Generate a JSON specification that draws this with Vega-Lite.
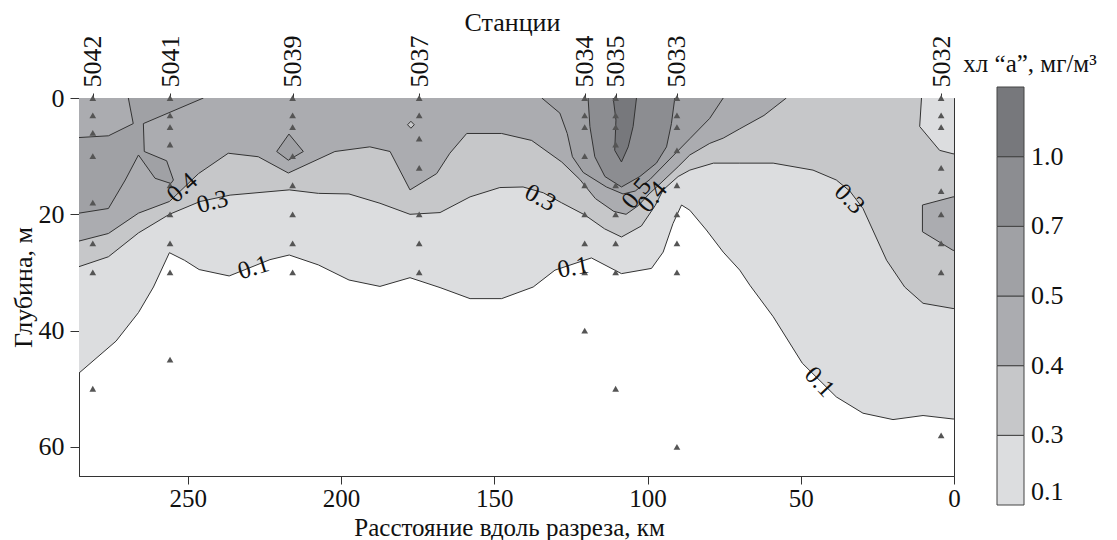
{
"$schema":"https://vega.github.io/schema/vega-lite/v6.json",
"width":875,"height":378,
"autosize":{"type":"none"},
"padding":{"left":79,"top":98,"right":163,"bottom":64},
"background":"white",
"config":{
"view":{"stroke":"#333","strokeWidth":1},
"font":"Liberation Serif, Times New Roman, DejaVu Serif, serif",
"axis":{"domainColor":"#333","tickColor":"#333","labelColor":"#111","titleColor":"#111","labelFont":"Liberation Serif, Times New Roman, DejaVu Serif, serif","titleFont":"Liberation Serif, Times New Roman, DejaVu Serif, serif","labelFontSize":26,"titleFontSize":26,"titleFontWeight":"normal","grid":false,"labelFlush":false,"labelOverlap":false},
"legend":{"labelFont":"Liberation Serif, Times New Roman, DejaVu Serif, serif","titleFont":"Liberation Serif, Times New Roman, DejaVu Serif, serif"},
"text":{"font":"Liberation Serif, Times New Roman, DejaVu Serif, serif"}
},
"datasets":{
"poly":[
{"p":"a1","z":1,"c":0,"i":0,"km":292,"d":-3},{"p":"a1","z":1,"c":0,"i":1,"km":292,"d":47.3},{"p":"a1","z":1,"c":0,"i":2,"km":285.5,"d":47.3},{"p":"a1","z":1,"c":0,"i":3,"km":273.4,"d":41.8},{"p":"a1","z":1,"c":0,"i":4,"km":266.1,"d":36.9},{"p":"a1","z":1,"c":0,"i":5,"km":261.2,"d":32.5},{"p":"a1","z":1,"c":0,"i":6,"km":256.0,"d":26.6},{"p":"a1","z":1,"c":0,"i":7,"km":251.1,"d":27.9},{"p":"a1","z":1,"c":0,"i":8,"km":246.3,"d":29.5},{"p":"a1","z":1,"c":0,"i":9,"km":236.5,"d":30.6},{"p":"a1","z":1,"c":0,"i":10,"km":223.2,"d":27.8},{"p":"a1","z":1,"c":0,"i":11,"km":216.9,"d":27.0},{"p":"a1","z":1,"c":0,"i":12,"km":207.4,"d":28.7},{"p":"a1","z":1,"c":0,"i":13,"km":197.4,"d":31.3},{"p":"a1","z":1,"c":0,"i":14,"km":187.3,"d":32.4},{"p":"a1","z":1,"c":0,"i":15,"km":177.5,"d":30.9},{"p":"a1","z":1,"c":0,"i":16,"km":167.7,"d":32.6},{"p":"a1","z":1,"c":0,"i":17,"km":157.9,"d":34.5},{"p":"a1","z":1,"c":0,"i":18,"km":147.6,"d":34.5},{"p":"a1","z":1,"c":0,"i":19,"km":137.3,"d":32.5},{"p":"a1","z":1,"c":0,"i":20,"km":130.2,"d":29.6},{"p":"a1","z":1,"c":0,"i":21,"km":118.3,"d":27.5},{"p":"a1","z":1,"c":0,"i":22,"km":108.5,"d":30.2},{"p":"a1","z":1,"c":0,"i":23,"km":98.7,"d":29.3},{"p":"a1","z":1,"c":0,"i":24,"km":94.9,"d":26.5},{"p":"a1","z":1,"c":0,"i":25,"km":91.7,"d":21.6},{"p":"a1","z":1,"c":0,"i":26,"km":88.9,"d":18.4},{"p":"a1","z":1,"c":0,"i":27,"km":86.2,"d":19.3},{"p":"a1","z":1,"c":0,"i":28,"km":80.8,"d":22.7},{"p":"a1","z":1,"c":0,"i":29,"km":75.3,"d":26.5},{"p":"a1","z":1,"c":0,"i":30,"km":69.9,"d":29.6},{"p":"a1","z":1,"c":0,"i":31,"km":66.6,"d":32.2},{"p":"a1","z":1,"c":0,"i":32,"km":59.0,"d":37.6},{"p":"a1","z":1,"c":0,"i":33,"km":49.5,"d":45.6},{"p":"a1","z":1,"c":0,"i":34,"km":38.4,"d":51.4},{"p":"a1","z":1,"c":0,"i":35,"km":29.7,"d":54.2},{"p":"a1","z":1,"c":0,"i":36,"km":19.9,"d":55.3},{"p":"a1","z":1,"c":0,"i":37,"km":10.1,"d":54.6},{"p":"a1","z":1,"c":0,"i":38,"km":0.3,"d":55.2},{"p":"a1","z":1,"c":0,"i":39,"km":-3,"d":55.2},{"p":"a1","z":1,"c":0,"i":40,"km":-3,"d":-3},
{"p":"a2","z":2,"c":1,"i":0,"km":292,"d":-3},{"p":"a2","z":2,"c":1,"i":1,"km":292,"d":29.0},{"p":"a2","z":2,"c":1,"i":2,"km":285.5,"d":29.0},{"p":"a2","z":2,"c":1,"i":3,"km":275.9,"d":27.3},{"p":"a2","z":2,"c":1,"i":4,"km":266.1,"d":23.2},{"p":"a2","z":2,"c":1,"i":5,"km":256.0,"d":20.0},{"p":"a2","z":2,"c":1,"i":6,"km":246.0,"d":17.8},{"p":"a2","z":2,"c":1,"i":7,"km":236.2,"d":16.7},{"p":"a2","z":2,"c":1,"i":8,"km":216.9,"d":15.8},{"p":"a2","z":2,"c":1,"i":9,"km":207.4,"d":16.4},{"p":"a2","z":2,"c":1,"i":10,"km":197.4,"d":16.5},{"p":"a2","z":2,"c":1,"i":11,"km":187.3,"d":18.1},{"p":"a2","z":2,"c":1,"i":12,"km":177.5,"d":20.0},{"p":"a2","z":2,"c":1,"i":13,"km":167.7,"d":19.7},{"p":"a2","z":2,"c":1,"i":14,"km":157.9,"d":17.0},{"p":"a2","z":2,"c":1,"i":15,"km":148.2,"d":15.4},{"p":"a2","z":2,"c":1,"i":16,"km":140.6,"d":15.3},{"p":"a2","z":2,"c":1,"i":17,"km":134,"d":16.3},{"p":"a2","z":2,"c":1,"i":18,"km":128.1,"d":18.0},{"p":"a2","z":2,"c":1,"i":19,"km":120.5,"d":20.1},{"p":"a2","z":2,"c":1,"i":20,"km":114,"d":22.5},{"p":"a2","z":2,"c":1,"i":21,"km":108.5,"d":23.9},{"p":"a2","z":2,"c":1,"i":22,"km":102,"d":22.0},{"p":"a2","z":2,"c":1,"i":23,"km":97.5,"d":18.5},{"p":"a2","z":2,"c":1,"i":24,"km":94.9,"d":15.8},{"p":"a2","z":2,"c":1,"i":25,"km":90,"d":13.5},{"p":"a2","z":2,"c":1,"i":26,"km":86.2,"d":12.4},{"p":"a2","z":2,"c":1,"i":27,"km":78.5,"d":11.2},{"p":"a2","z":2,"c":1,"i":28,"km":69.9,"d":11.2},{"p":"a2","z":2,"c":1,"i":29,"km":59.0,"d":11.2},{"p":"a2","z":2,"c":1,"i":30,"km":46.0,"d":12.4},{"p":"a2","z":2,"c":1,"i":31,"km":38.4,"d":14.1},{"p":"a2","z":2,"c":1,"i":32,"km":34,"d":16.0},{"p":"a2","z":2,"c":1,"i":33,"km":29.7,"d":19.0},{"p":"a2","z":2,"c":1,"i":34,"km":22.0,"d":27.9},{"p":"a2","z":2,"c":1,"i":35,"km":16.1,"d":32.5},{"p":"a2","z":2,"c":1,"i":36,"km":10.1,"d":35.3},{"p":"a2","z":2,"c":1,"i":37,"km":0.3,"d":36.2},{"p":"a2","z":2,"c":1,"i":38,"km":-3,"d":36.2},{"p":"a2","z":2,"c":1,"i":39,"km":-3,"d":-3},
{"p":"a3","z":3,"c":0,"i":0,"km":10.6,"d":-3},{"p":"a3","z":3,"c":0,"i":1,"km":10.6,"d":0},{"p":"a3","z":3,"c":0,"i":2,"km":11.2,"d":4.9},{"p":"a3","z":3,"c":0,"i":3,"km":4.7,"d":9.0},{"p":"a3","z":3,"c":0,"i":4,"km":0.3,"d":9.6},{"p":"a3","z":3,"c":0,"i":5,"km":-3,"d":9.6},{"p":"a3","z":3,"c":0,"i":6,"km":-3,"d":-3},
{"p":"a4","z":4,"c":2,"i":0,"km":292,"d":-3},{"p":"a4","z":4,"c":2,"i":1,"km":292,"d":24.6},{"p":"a4","z":4,"c":2,"i":2,"km":285.5,"d":24.6},{"p":"a4","z":4,"c":2,"i":3,"km":275.9,"d":23.3},{"p":"a4","z":4,"c":2,"i":4,"km":266.1,"d":19.8},{"p":"a4","z":4,"c":2,"i":5,"km":256.0,"d":17.8},{"p":"a4","z":4,"c":2,"i":6,"km":246.5,"d":13.0},{"p":"a4","z":4,"c":2,"i":7,"km":236.8,"d":9.5},{"p":"a4","z":4,"c":2,"i":8,"km":227.0,"d":10.1},{"p":"a4","z":4,"c":2,"i":9,"km":217.2,"d":12.9},{"p":"a4","z":4,"c":2,"i":10,"km":202.0,"d":9.2},{"p":"a4","z":4,"c":2,"i":11,"km":190.6,"d":8.4},{"p":"a4","z":4,"c":2,"i":12,"km":184.0,"d":9.2},{"p":"a4","z":4,"c":2,"i":13,"km":177.5,"d":15.8},{"p":"a4","z":4,"c":2,"i":14,"km":168.8,"d":13.0},{"p":"a4","z":4,"c":2,"i":15,"km":164.5,"d":9.5},{"p":"a4","z":4,"c":2,"i":16,"km":159.0,"d":6.1},{"p":"a4","z":4,"c":2,"i":17,"km":147.6,"d":6.1},{"p":"a4","z":4,"c":2,"i":18,"km":137.8,"d":7.3},{"p":"a4","z":4,"c":2,"i":19,"km":128.0,"d":11.0},{"p":"a4","z":4,"c":2,"i":20,"km":122.1,"d":14.0},{"p":"a4","z":4,"c":2,"i":21,"km":117,"d":17.3},{"p":"a4","z":4,"c":2,"i":22,"km":111,"d":19.5},{"p":"a4","z":4,"c":2,"i":23,"km":107,"d":20.0},{"p":"a4","z":4,"c":2,"i":24,"km":103,"d":18.5},{"p":"a4","z":4,"c":2,"i":25,"km":99.5,"d":16.5},{"p":"a4","z":4,"c":2,"i":26,"km":96,"d":14.8},{"p":"a4","z":4,"c":2,"i":27,"km":90,"d":11.8},{"p":"a4","z":4,"c":2,"i":28,"km":86.2,"d":9.8},{"p":"a4","z":4,"c":2,"i":29,"km":79.7,"d":7.8},{"p":"a4","z":4,"c":2,"i":30,"km":75.3,"d":6.9},{"p":"a4","z":4,"c":2,"i":31,"km":69.9,"d":5.3},{"p":"a4","z":4,"c":2,"i":32,"km":62,"d":3.0},{"p":"a4","z":4,"c":2,"i":33,"km":54.7,"d":0},{"p":"a4","z":4,"c":2,"i":34,"km":53.5,"d":-3},
{"p":"a5","z":5,"c":2,"i":0,"km":-3,"d":17.0},{"p":"a5","z":5,"c":2,"i":1,"km":0.3,"d":17.0},{"p":"a5","z":5,"c":2,"i":2,"km":10.3,"d":18.4},{"p":"a5","z":5,"c":2,"i":3,"km":10.3,"d":23.0},{"p":"a5","z":5,"c":2,"i":4,"km":0.3,"d":26.2},{"p":"a5","z":5,"c":2,"i":5,"km":-3,"d":26.2},
{"p":"a6","z":5,"c":3,"i":0,"km":292,"d":-3},{"p":"a6","z":5,"c":3,"i":1,"km":244.9,"d":-3},{"p":"a6","z":5,"c":3,"i":2,"km":244.9,"d":0},{"p":"a6","z":5,"c":3,"i":3,"km":264.5,"d":4.4},{"p":"a6","z":5,"c":3,"i":4,"km":264.2,"d":9.2},{"p":"a6","z":5,"c":3,"i":5,"km":256.9,"d":10.8},{"p":"a6","z":5,"c":3,"i":6,"km":254.7,"d":14.1},{"p":"a6","z":5,"c":3,"i":7,"km":255.5,"d":14.7},{"p":"a6","z":5,"c":3,"i":8,"km":260.7,"d":13.8},{"p":"a6","z":5,"c":3,"i":9,"km":266.1,"d":9.8},{"p":"a6","z":5,"c":3,"i":10,"km":270.4,"d":14.1},{"p":"a6","z":5,"c":3,"i":11,"km":275.9,"d":19.0},{"p":"a6","z":5,"c":3,"i":12,"km":285.5,"d":19.8},{"p":"a6","z":5,"c":3,"i":13,"km":292,"d":19.8},
{"p":"a7","z":5,"c":3,"i":0,"km":221.0,"d":9.2},{"p":"a7","z":5,"c":3,"i":1,"km":217.0,"d":6.2},{"p":"a7","z":5,"c":3,"i":2,"km":212.3,"d":9.2},{"p":"a7","z":5,"c":3,"i":3,"km":217.2,"d":10.7},{"p":"a7","z":5,"c":3,"i":4,"km":221.0,"d":9.2},
{"p":"a8","z":5,"c":3,"i":0,"km":134.5,"d":-3},{"p":"a8","z":5,"c":3,"i":1,"km":134.5,"d":0},{"p":"a8","z":5,"c":3,"i":2,"km":128.6,"d":2.6},{"p":"a8","z":5,"c":3,"i":3,"km":126.2,"d":6.1},{"p":"a8","z":5,"c":3,"i":4,"km":124.5,"d":10.1},{"p":"a8","z":5,"c":3,"i":5,"km":121,"d":12.8},{"p":"a8","z":5,"c":3,"i":6,"km":113.4,"d":15.3},{"p":"a8","z":5,"c":3,"i":7,"km":108,"d":16.5},{"p":"a8","z":5,"c":3,"i":8,"km":104,"d":16.0},{"p":"a8","z":5,"c":3,"i":9,"km":99.2,"d":14.0},{"p":"a8","z":5,"c":3,"i":10,"km":92.7,"d":10.5},{"p":"a8","z":5,"c":3,"i":11,"km":86.2,"d":7.0},{"p":"a8","z":5,"c":3,"i":12,"km":79.7,"d":3.5},{"p":"a8","z":5,"c":3,"i":13,"km":75.3,"d":0},{"p":"a8","z":5,"c":3,"i":14,"km":75.3,"d":-3},
{"p":"a9","z":6,"c":2,"i":0,"km":292,"d":-3},{"p":"a9","z":6,"c":2,"i":1,"km":269.4,"d":-3},{"p":"a9","z":6,"c":2,"i":2,"km":269.4,"d":0},{"p":"a9","z":6,"c":2,"i":3,"km":267.8,"d":4.4},{"p":"a9","z":6,"c":2,"i":4,"km":275.9,"d":6.5},{"p":"a9","z":6,"c":2,"i":5,"km":285.5,"d":6.8},{"p":"a9","z":6,"c":2,"i":6,"km":292,"d":6.8},
{"p":"a10","z":6,"c":1,"i":0,"km":178.3,"d":4.6},{"p":"a10","z":6,"c":1,"i":1,"km":177.2,"d":4.0},{"p":"a10","z":6,"c":1,"i":2,"km":176.1,"d":4.6},{"p":"a10","z":6,"c":1,"i":3,"km":177.2,"d":5.2},{"p":"a10","z":6,"c":1,"i":4,"km":178.3,"d":4.6},
{"p":"a11","z":6,"c":4,"i":0,"km":119.4,"d":-3},{"p":"a11","z":6,"c":4,"i":1,"km":119.4,"d":0},{"p":"a11","z":6,"c":4,"i":2,"km":118.8,"d":4.9},{"p":"a11","z":6,"c":4,"i":3,"km":117.2,"d":10.1},{"p":"a11","z":6,"c":4,"i":4,"km":113.9,"d":13.5},{"p":"a11","z":6,"c":4,"i":5,"km":108.5,"d":15.3},{"p":"a11","z":6,"c":4,"i":6,"km":102.5,"d":13.5},{"p":"a11","z":6,"c":4,"i":7,"km":97.1,"d":11.2},{"p":"a11","z":6,"c":4,"i":8,"km":93.8,"d":8.4},{"p":"a11","z":6,"c":4,"i":9,"km":92.2,"d":4.4},{"p":"a11","z":6,"c":4,"i":10,"km":91.1,"d":0},{"p":"a11","z":6,"c":4,"i":11,"km":91.1,"d":-3},
{"p":"a12","z":7,"c":5,"i":0,"km":111.2,"d":-3},{"p":"a12","z":7,"c":5,"i":1,"km":111.2,"d":0},{"p":"a12","z":7,"c":5,"i":2,"km":110.3,"d":3.8},{"p":"a12","z":7,"c":5,"i":3,"km":110.7,"d":9.0},{"p":"a12","z":7,"c":5,"i":4,"km":108.5,"d":11.0},{"p":"a12","z":7,"c":5,"i":5,"km":106.3,"d":8.4},{"p":"a12","z":7,"c":5,"i":6,"km":104.7,"d":4.9},{"p":"a12","z":7,"c":5,"i":7,"km":103.6,"d":0},{"p":"a12","z":7,"c":5,"i":8,"km":103.6,"d":-3}
],
"st":[
{"s":"5042","km":281,"d":0},{"s":"5042","km":281,"d":3},{"s":"5042","km":281,"d":6},{"s":"5042","km":281,"d":10},{"s":"5042","km":281,"d":18},{"s":"5042","km":281,"d":25},{"s":"5042","km":281,"d":30},{"s":"5042","km":281,"d":50},
{"s":"5041","km":255.8,"d":0},{"s":"5041","km":255.8,"d":3},{"s":"5041","km":255.8,"d":5},{"s":"5041","km":255.8,"d":8},{"s":"5041","km":255.8,"d":15},{"s":"5041","km":255.8,"d":20},{"s":"5041","km":255.8,"d":25},{"s":"5041","km":255.8,"d":30},{"s":"5041","km":255.8,"d":45},
{"s":"5039","km":215.8,"d":0},{"s":"5039","km":215.8,"d":3},{"s":"5039","km":215.8,"d":5},{"s":"5039","km":215.8,"d":10},{"s":"5039","km":215.8,"d":15},{"s":"5039","km":215.8,"d":20},{"s":"5039","km":215.8,"d":25},{"s":"5039","km":215.8,"d":30},
{"s":"5037","km":174.5,"d":0},{"s":"5037","km":174.5,"d":3},{"s":"5037","km":174.5,"d":7},{"s":"5037","km":174.5,"d":12},{"s":"5037","km":174.5,"d":20},{"s":"5037","km":174.5,"d":25},{"s":"5037","km":174.5,"d":30},
{"s":"5034","km":120.5,"d":0},{"s":"5034","km":120.5,"d":3},{"s":"5034","km":120.5,"d":5},{"s":"5034","km":120.5,"d":10},{"s":"5034","km":120.5,"d":15},{"s":"5034","km":120.5,"d":20},{"s":"5034","km":120.5,"d":25},{"s":"5034","km":120.5,"d":30},{"s":"5034","km":120.5,"d":40},
{"s":"5035","km":110.4,"d":0},{"s":"5035","km":110.4,"d":3},{"s":"5035","km":110.4,"d":5},{"s":"5035","km":110.4,"d":8},{"s":"5035","km":110.4,"d":15},{"s":"5035","km":110.4,"d":20},{"s":"5035","km":110.4,"d":25},{"s":"5035","km":110.4,"d":30},{"s":"5035","km":110.4,"d":50},
{"s":"5033","km":90.4,"d":0},{"s":"5033","km":90.4,"d":3},{"s":"5033","km":90.4,"d":5},{"s":"5033","km":90.4,"d":9},{"s":"5033","km":90.4,"d":15},{"s":"5033","km":90.4,"d":20},{"s":"5033","km":90.4,"d":25},{"s":"5033","km":90.4,"d":30},{"s":"5033","km":90.4,"d":60},
{"s":"5032","km":4.2,"d":0},{"s":"5032","km":4.2,"d":3},{"s":"5032","km":4.2,"d":5},{"s":"5032","km":4.2,"d":12},{"s":"5032","km":4.2,"d":16},{"s":"5032","km":4.2,"d":20},{"s":"5032","km":4.2,"d":25},{"s":"5032","km":4.2,"d":30},{"s":"5032","km":4.2,"d":58}
],
"lab":[
{"id":1,"t":"0.4","km":251.9,"d":15.4},{"id":2,"t":"0.3","km":242.0,"d":17.8},{"id":3,"t":"0.1","km":228.6,"d":29.1},{"id":4,"t":"0.3","km":134.9,"d":17.1},{"id":5,"t":"0.1","km":124.3,"d":29.1},{"id":6,"t":"0.5","km":103.6,"d":16.4},{"id":7,"t":"0.4","km":98.5,"d":17.0},{"id":8,"t":"0.3","km":34.0,"d":17.3},{"id":9,"t":"0.1","km":43.8,"d":48.8}
]
},
"layer":[
{
"data":{"name":"poly"},
"encoding":{
"x":{"field":"km","type":"quantitative","scale":{"domain":[0,285.5],"reverse":true,"nice":false,"zero":false},
 "axis":{"orient":"bottom","values":[0,50,100,150,200,250],"tickSize":8,"labelPadding":2,"labelFontSize":25,"title":"Расстояние вдоль разреза, км","titleFontSize":25,"titleX":430,"titleY":59,"titleBaseline":"alphabetic","titleAlign":"center"}},
"y":{"field":"d","type":"quantitative","scale":{"domain":[0,65],"reverse":true,"nice":false,"zero":false},
 "axis":{"orient":"left","values":[0,20,40,60],"tickSize":9,"labelPadding":6,"title":"Глубина, м","titleX":-48,"titleY":189,"titleBaseline":"alphabetic","titleAlign":"center","titleAngle":-90}},
"order":{"field":"i","type":"quantitative"},
"detail":{"field":"p","type":"nominal"},
"fill":{"field":"c","type":"quantitative","bin":{"step":1,"extent":[0,6]},
 "scale":{"range":["#dcdddf","#c6c7c9","#abacb0","#a0a1a5","#8c8d91","#77787c"]},
 "legend":{"type":"gradient","orient":"none","legendX":884,"legendY":-46,"direction":"vertical","gradientLength":418,"gradientThickness":27,"title":"хл “а”, мг/м³","titleAnchor":"middle","titleFontSize":25,"titleFontWeight":"normal","titlePadding":10,"titleColor":"#111","labelFontSize":26,"labelColor":"#111","labelOffset":7,"labelOverlap":false,"gradientStrokeColor":"#444","gradientStrokeWidth":1,
 "labelExpr":"datum.value == 0 ? '0.1' : datum.value == 1 ? '0.3' : datum.value == 2 ? '0.4' : datum.value == 3 ? '0.5' : datum.value == 4 ? '0.7' : datum.value == 5 ? '1.0' : ''"}}
},
"layer":[
{"transform":[{"filter":"datum.z == 1"}],"mark":{"type":"line","clip":true,"stroke":"#333","strokeWidth":1,"interpolate":"linear"}},
{"transform":[{"filter":"datum.z == 2"}],"mark":{"type":"line","clip":true,"stroke":"#333","strokeWidth":1,"interpolate":"linear"}},
{"transform":[{"filter":"datum.z == 3"}],"mark":{"type":"line","clip":true,"stroke":"#333","strokeWidth":1,"interpolate":"linear"}},
{"transform":[{"filter":"datum.z == 4"}],"mark":{"type":"line","clip":true,"stroke":"#333","strokeWidth":1,"interpolate":"linear"}},
{"transform":[{"filter":"datum.z == 5"}],"mark":{"type":"line","clip":true,"stroke":"#333","strokeWidth":1,"interpolate":"linear"}},
{"transform":[{"filter":"datum.z == 6"}],"mark":{"type":"line","clip":true,"stroke":"#333","strokeWidth":1,"interpolate":"linear"}},
{"transform":[{"filter":"datum.z == 7"}],"mark":{"type":"line","clip":true,"stroke":"#333","strokeWidth":1,"interpolate":"linear"}}
]
},
{
"data":{"name":"st"},
"mark":{"type":"point","shape":"triangle-up","filled":true,"color":"#555","size":45,"opacity":1},
"encoding":{
"x":{"field":"km","type":"quantitative","scale":{"domain":[0,285.5],"reverse":true,"nice":false,"zero":false},
 "axis":{"orient":"top","values":[281,255.8,215.8,174.5,120.5,110.4,90.4,4.2],"labelExpr":"datum.value == 281 ? '5042' : datum.value == 255.8 ? '5041' : datum.value == 215.8 ? '5039' : datum.value == 174.5 ? '5037' : datum.value == 120.5 ? '5034' : datum.value == 110.4 ? '5035' : datum.value == 90.4 ? '5033' : '5032'","labelAngle":-90,"labelAlign":"left","labelBaseline":"middle","labelPadding":6,"tickSize":5,"title":"Станции","titleX":433,"titleY":-68,"titleBaseline":"alphabetic","titleAlign":"center","titleAngle":0}},
"y":{"field":"d","type":"quantitative"}
}
},
{
"data":{"name":"lab"},
"encoding":{
"x":{"field":"km","type":"quantitative","axis":null},
"y":{"field":"d","type":"quantitative"},
"text":{"field":"t","type":"nominal"}
},
"layer":[
{"transform":[{"filter":"datum.id == 1"}],"mark":{"type":"text","angle":-42,"fontSize":25,"color":"#111"}},
{"transform":[{"filter":"datum.id == 2"}],"mark":{"type":"text","angle":-15,"fontSize":25,"color":"#111"}},
{"transform":[{"filter":"datum.id == 3"}],"mark":{"type":"text","angle":-17,"fontSize":25,"color":"#111"}},
{"transform":[{"filter":"datum.id == 4"}],"mark":{"type":"text","angle":28,"fontSize":25,"color":"#111"}},
{"transform":[{"filter":"datum.id == 5"}],"mark":{"type":"text","angle":-10,"fontSize":25,"color":"#111"}},
{"transform":[{"filter":"datum.id == 6"}],"mark":{"type":"text","angle":-50,"fontSize":25,"color":"#111"}},
{"transform":[{"filter":"datum.id == 7"}],"mark":{"type":"text","angle":-50,"fontSize":25,"color":"#111"}},
{"transform":[{"filter":"datum.id == 8"}],"mark":{"type":"text","angle":45,"fontSize":25,"color":"#111"}},
{"transform":[{"filter":"datum.id == 9"}],"mark":{"type":"text","angle":47,"fontSize":25,"color":"#111"}}
]
}
],
"resolve":{"axis":{"x":"independent"}}
}
